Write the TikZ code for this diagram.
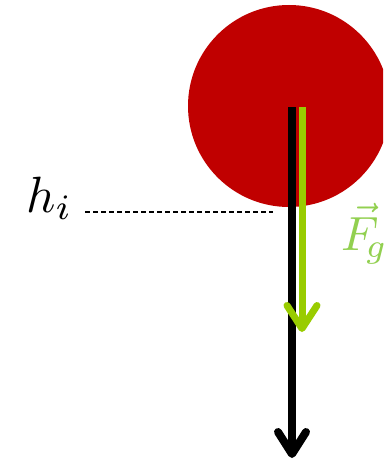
\documentclass[tikz,border=0pt]{standalone}
\usepackage{graphicx}
\usetikzlibrary{arrows.meta}
\definecolor{ballred}{HTML}{C00000}
\definecolor{vecgreen}{HTML}{99CC00}
\definecolor{labgreen}{HTML}{92D050}
\tikzset{
  ball/.style={circle, fill=ballred, minimum size=202pt, inner sep=0pt},
  bigarrow/.style={line width=8pt, black, -{Straight Barb[length=22pt,width=28pt,round]}},
  forcearrow/.style={line width=7pt, vecgreen, -{Straight Barb[length=23pt,width=30pt,round]}},
  levelline/.style={line width=1.7pt, dash pattern=on 5pt off 3pt},
  biglabel/.style={inner sep=0pt, anchor=base west}
}
\begin{document}
\begin{tikzpicture}[x=1pt,y=-1pt]
\path[use as bounding box, clip] (0,0) rectangle (383,460);
\fill[white] (0,0) rectangle (383,460);
\node[ball] (ball) at (289,106) {};
\coordinate (bs) at (292,107);
\coordinate (be) at (292,458);
\coordinate (gs) at (302,107);
\coordinate (ge) at (302,332);
\coordinate (ds) at (85,212);
\coordinate (de) at (273,212);
\draw[bigarrow] (bs) -- (be);
\draw[forcearrow] (gs) -- (ge);
\draw[levelline] (ds) -- (de);
\node[biglabel] (h) at (26,212) {\scalebox{5.1}{$h_i$}};
\node[biglabel, text=labgreen] (F) at (341,250) {\scalebox{4.8}{$\vec{F}_{\!g}$}};
\end{tikzpicture}
\end{document}
